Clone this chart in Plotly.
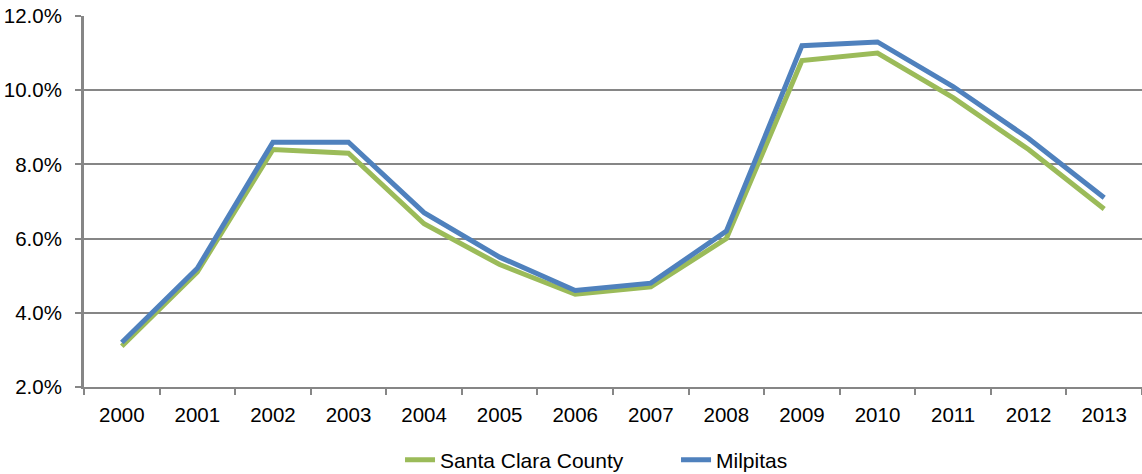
import plotly.graph_objects as go

years = ["2000", "2001", "2002", "2003", "2004", "2005", "2006", "2007",
         "2008", "2009", "2010", "2011", "2012", "2013"]
santa_clara = [3.1, 5.1, 8.4, 8.3, 6.4, 5.3, 4.5, 4.7, 6.0, 10.8, 11.0, 9.8, 8.4, 6.8]
milpitas = [3.2, 5.2, 8.6, 8.6, 6.7, 5.5, 4.6, 4.8, 6.2, 11.2, 11.3, 10.1, 8.7, 7.1]
y_ticks = [2, 4, 6, 8, 10, 12]
y_labels = ["2.0%", "4.0%", "6.0%", "8.0%", "10.0%", "12.0%"]

FONT = "Liberation Sans, Arial, sans-serif"

fig = go.Figure()
fig.add_trace(go.Scatter(x=years, y=santa_clara, mode="lines", name="Santa Clara County",
                         line=dict(color="#9BBB59", width=5)))
fig.add_trace(go.Scatter(x=years, y=milpitas, mode="lines", name="Milpitas",
                         line=dict(color="#4F81BD", width=5)))

fig.update_layout(
    width=1142, height=474,
    margin=dict(l=84, r=0, t=16, b=87),
    paper_bgcolor="white", plot_bgcolor="white",
    font=dict(family=FONT, size=20.5, color="black"),
    showlegend=True,
    legend=dict(orientation="h", x=0.2987, xanchor="left",
                yref="container", y=0.0295, yanchor="middle",
                font=dict(family=FONT, size=21, color="black"), tracegroupgap=0,
                entrywidth=231, entrywidthmode="pixels"),
)
fig.update_xaxes(type="category", range=[-0.5, 13.5], showline=True, linecolor="#868686",
                 linewidth=2, ticks="outside", tickson="boundaries", ticklen=6,
                 tickcolor="#868686", tickwidth=2, showgrid=False, zeroline=False,
                 tickfont=dict(family=FONT, size=20.5, color="black"), ticklabelstandoff=8)
fig.update_yaxes(range=[2, 12], tickmode="array", tickvals=y_ticks, ticktext=y_labels,
                 showline=True, linecolor="#868686", linewidth=3, ticks="outside",
                 ticklen=6, tickcolor="#868686", tickwidth=2, showgrid=True,
                 gridcolor="#868686", gridwidth=2, zeroline=False,
                 tickfont=dict(family=FONT, size=20.5, color="black"), ticklabelstandoff=9)

fig.write_html("out.html", config={"displayModeBar": False},
               post_script="document.body.style.margin='0';")
